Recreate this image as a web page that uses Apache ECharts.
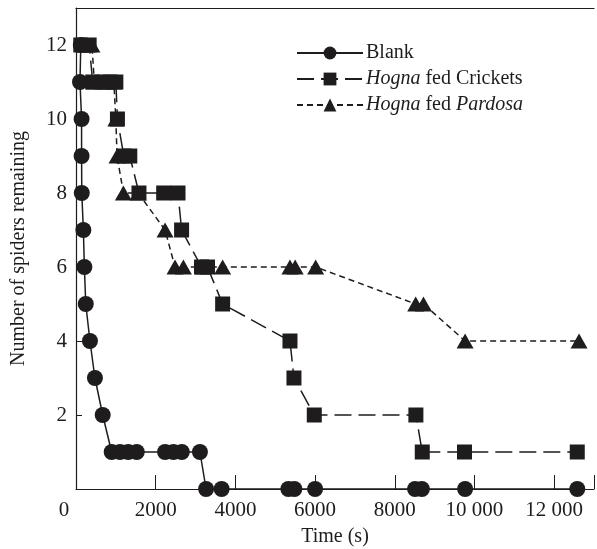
<!DOCTYPE html>
<html><head><meta charset="utf-8">
<script src="https://cdn.jsdelivr.net/npm/echarts@6/dist/echarts.min.js"></script>
<style>html,body{margin:0;padding:0;background:#fff}#c{width:597px;height:549px}</style>
</head><body><div id="c"></div>
<script>
const seriesNames = ['Blank', 'Hogna fed Crickets', 'Hogna fed Pardosa'];
const blank = [[120,12],[100,11],[140,10],[140,9],[145,8],[185,7],[210,6],[245,5],[350,4],[475,3],[670,2],[895,1],[1105,1],[1310,1],[1525,1],[2235,1],[2445,1],[2655,1],[3110,1],[3265,0],[3655,0],[5330,0],[5480,0],[6000,0],[8510,0],[8680,0],[9765,0],[12580,0]];
const crickets = [[120,12],[330,12],[420,11],[650,11],[850,11],[1000,11],[1040,10],[1200,9],[1350,9],[1580,8],[2200,8],[2560,8],[2650,7],[3150,6],[3300,6],[3680,5],[5370,4],[5470,3],[5980,2],[8530,2],[8690,1],[9750,1],[12580,1]];
const pardosa = [[220,12],[400,12],[460,11],[750,11],[950,11],[1000,10],[1030,9],[1190,8],[1560,8],[2235,7],[2485,6],[2695,6],[3195,6],[3680,6],[5370,6],[5500,6],[6015,6],[8525,5],[8720,5],[9765,4],[12625,4]];
const xTicks = [0, 2000, 4000, 6000, 8000, 10000, 12000];
const yTicks = [2, 4, 6, 8, 10, 12];

const FONT = 'Liberation Serif';
const INK = '#1e1c1d';
const chart = echarts.init(document.getElementById('c'));
function fmtX(v){ if (v === 0) return '{z|0}'; return v >= 10000 ? String(v).replace(/(\d+)(\d{3})$/, '$1 $2') : String(v); }
chart.setOption({
  animation: false,
  grid: {left: 76, top: 8, right: 3, bottom: 60, containLabel: false, outerBoundsMode: 'none'},
  textStyle: {fontFamily: FONT, color: INK},
  legend: {
    orient: 'vertical', left: 291, top: 38, itemWidth: 66, itemHeight: 16, itemGap: 6,
    data: seriesNames,
    formatter: n => n.replace('Hogna', '{i|Hogna}').replace('Pardosa', '{i|Pardosa}'),
    textStyle: {fontFamily: FONT, fontSize: 20, color: INK, padding: [0,0,0,-2],
      rich: {i: {fontFamily: FONT, fontSize: 20, fontStyle: 'italic', color: INK}}}
  },
  xAxis: [{
    type: 'value', min: 0, max: 13000, interval: 2000,
    name: 'Time (s)', nameLocation: 'middle', nameGap: 38,
    nameTextStyle: {fontFamily: FONT, fontSize: 20, color: INK},
    axisLine: {lineStyle: {color: INK, width: 1.2}},
    axisTick: {inside: true, length: 14, lineStyle: {color: INK, width: 1}},
    axisLabel: {fontFamily: FONT, fontSize: 21, color: INK, margin: 11,
      formatter: v => xTicks.includes(v) ? fmtX(v) : '',
      rich: {z: {fontFamily: FONT, fontSize: 21, color: INK, padding: [0, 24, 0, 0]}}},
    splitLine: {show: false}
  }, {
    type: 'value', min: 0, max: 13000, position: 'top',
    axisLine: {show: true, lineStyle: {color: INK, width: 1.2}},
    axisTick: {show: false}, axisLabel: {show: false}, splitLine: {show: false}
  }],
  yAxis: {
    type: 'value', min: 0, max: 13, interval: 2,
    name: 'Number of spiders remaining', nameLocation: 'middle', nameGap: 47, nameRotate: 90,
    nameTextStyle: {fontFamily: FONT, fontSize: 20, color: INK},
    axisLine: {show: true, lineStyle: {color: INK, width: 1.2}},
    axisTick: {inside: true, length: 6, lineStyle: {color: INK, width: 1}},
    axisLabel: {fontFamily: FONT, fontSize: 21, color: INK, margin: 9,
      formatter: v => yTicks.includes(v) ? String(v) : ''},
    splitLine: {show: false}
  },
  series: [
    {name: seriesNames[0], type: 'line', data: blank, symbol: 'circle', symbolSize: 16,
      itemStyle: {color: INK}, lineStyle: {color: INK, width: 1.5, type: 'solid'}, z: 3},
    {name: seriesNames[1], type: 'line', data: crickets, symbol: 'rect', symbolSize: 15,
      itemStyle: {color: INK}, lineStyle: {color: INK, width: 1.5, type: [17, 7]}, z: 4},
    {name: seriesNames[2], type: 'line', data: pardosa, symbol: 'triangle', symbolSize: [17, 15],
      itemStyle: {color: INK}, lineStyle: {color: INK, width: 1.5, type: [6, 4]}, z: 2}
  ]
});
</script></body></html>
